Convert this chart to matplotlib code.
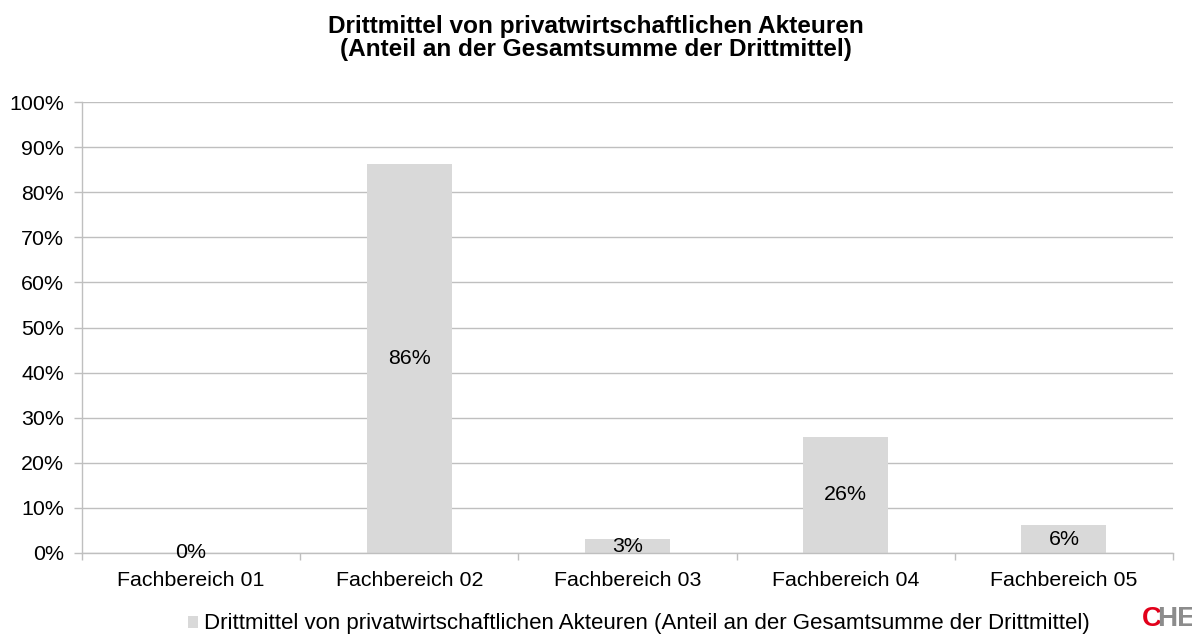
import numpy as np
import matplotlib.pyplot as plt

plt.rcParams['font.family'] = ['Liberation Sans', 'DejaVu Sans']

categories = ['Fachbereich 01', 'Fachbereich 02', 'Fachbereich 03',
              'Fachbereich 04', 'Fachbereich 05']
values = [0.0, 0.862, 0.031, 0.258, 0.062]
labels = ['0%', '86%', '3%', '26%', '6%']
series_name = 'Drittmittel von privatwirtschaftlichen Akteuren (Anteil an der Gesamtsumme der Drittmittel)'
title = 'Drittmittel von privatwirtschaftlichen Akteuren\n(Anteil an der Gesamtsumme der Drittmittel)'

bar_col = '#D9D9D9'
grid_col = '#BFBFBF'

fig = plt.figure(figsize=(11.92, 6.36), dpi=100)
ax = fig.add_axes([82/1192, 83/636, (1173-82)/1192, (553-102)/636])

x = np.arange(len(categories))
bars = ax.bar(x, values, width=0.39, color=bar_col, zorder=2, label=series_name)

for xi, v, lab in zip(x, values, labels):
    ax.text(xi, v/2, lab, ha='center', va='center', fontsize=15.4, color='black', zorder=3)

ax.set_xlim(-0.5, len(categories) - 0.5)
ax.set_ylim(0, 1.0)
ax.set_yticks(np.arange(0, 1.01, 0.1))
ax.set_yticklabels([f'{int(round(t*100))}%' for t in np.arange(0, 1.01, 0.1)], fontsize=15.4)
ax.yaxis.grid(True, color=grid_col, linewidth=1, zorder=0)
ax.set_axisbelow(True)

# ticks at category boundaries, labels centred
ax.set_xticks(np.arange(-0.5, len(categories)), minor=False)
ax.set_xticklabels([])
ax.set_xticks(x, minor=True)
ax.set_xticklabels(categories, minor=True, fontsize=15.4)
ax.tick_params(axis='x', which='major', length=5, color=grid_col, width=1)
ax.tick_params(axis='x', which='minor', length=0, pad=13)
ax.tick_params(axis='y', length=6, color=grid_col, width=1, pad=7)

for s in ['top', 'right']:
    ax.spines[s].set_visible(False)
ax.spines['left'].set_color(grid_col)
ax.spines['bottom'].set_color(grid_col)
ax.spines['left'].set_linewidth(1)
ax.spines['bottom'].set_linewidth(1)

fig.text(0.5, 1 - 38/636, title, ha='center', va='center', fontsize=17.6,
         fontweight='bold', linespacing=1.0)

fig.legend(handles=[bars], labels=[series_name], loc='center',
           bbox_to_anchor=(639/1192, 1 - 624/636), frameon=False, fontsize=16,
           handlelength=0.45, handleheight=0.45, handletextpad=0.3)

# CHE logo, cut at the right edge
fig.text(1142/1192, 1 - 619/636, 'C', color='#E2001A', fontsize=20,
         fontweight='bold', ha='left', va='center')
fig.text(1157/1192, 1 - 619/636, 'HE', color='#8C8C8C', fontsize=20,
         fontweight='bold', ha='left', va='center')

fig.savefig('out.png', dpi=100)
